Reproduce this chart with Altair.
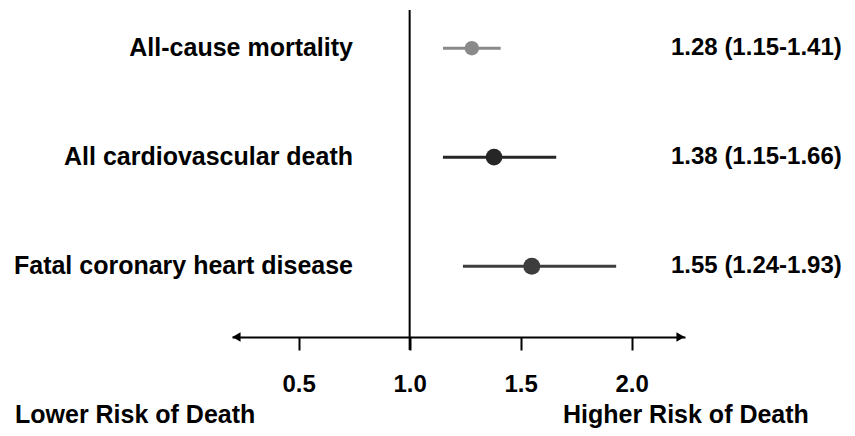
import altair as alt
import pandas as pd

# ---- data ----
outcomes = ["All-cause mortality", "All cardiovascular death", "Fatal coronary heart disease"]
hr = [1.28, 1.38, 1.55]
ci_low = [1.15, 1.15, 1.24]
ci_high = [1.41, 1.66, 1.93]
colors = ["#8a8a8a", "#262626", "#3d3d3d"]
point_sizes = [210, 280, 290]

x_ticks = [0.5, 1.0, 1.5, 2.0]
x_domain = [0.2, 2.24]
reference_value = [1.0]
bottom_labels = ["Lower Risk of Death", "Higher Risk of Death"]

FONT = "Liberation Sans"
FS = 24
FS_LABEL = 25
W, H = 453, 327

df = pd.DataFrame({
    "outcome": outcomes,
    "hr": hr,
    "lo": ci_low,
    "hi": ci_high,
    "size": point_sizes,
})
df["label"] = [f"{h:.2f} ({l:.2f}-{u:.2f})" for h, l, u in zip(hr, ci_low, ci_high)]

xscale = alt.Scale(domain=x_domain, nice=False, zero=False)
yscale = alt.Scale(type="point", domain=outcomes, padding=0.5, align=0.35)
cscale = alt.Scale(domain=outcomes, range=colors)

base = alt.Chart(df)

x_axis = alt.Axis(
    values=x_ticks, format=".1f", title=None, grid=False,
    domainColor="black", domainWidth=2,
    tickColor="black", tickWidth=2, tickSize=13,
    labelFont=FONT, labelFontSize=FS, labelFontWeight="bold", labelColor="black",
    labelPadding=22,
)

ci = base.mark_rule(strokeWidth=3).encode(
    x=alt.X("lo:Q", scale=xscale, axis=x_axis),
    x2="hi:Q",
    y=alt.Y("outcome:N", scale=yscale, axis=None, sort=outcomes),
    color=alt.Color("outcome:N", scale=cscale, legend=None),
)

pts = base.mark_circle(opacity=1).encode(
    x=alt.X("hr:Q", scale=xscale),
    y=alt.Y("outcome:N", scale=yscale, axis=None, sort=outcomes),
    color=alt.Color("outcome:N", scale=cscale, legend=None),
    size=alt.Size("size:Q", scale=None, legend=None),
)

names = base.mark_text(align="right", baseline="middle", font=FONT, fontSize=FS_LABEL,
                       fontWeight="bold", color="black").encode(
    x=alt.value(121),
    y=alt.Y("outcome:N", scale=yscale, axis=None, sort=outcomes),
    text="outcome:N",
)

vals = base.mark_text(align="left", baseline="middle", font=FONT, fontSize=FS,
                      fontWeight="bold", color="black").encode(
    x=alt.value(439),
    y=alt.Y("outcome:N", scale=yscale, axis=None, sort=outcomes),
    text="label:N",
)

ref = alt.Chart(pd.DataFrame({"v": reference_value})).mark_rule(
    color="black", strokeWidth=2).encode(
    x=alt.X("v:Q", scale=xscale),
    y=alt.value(0),
    y2=alt.value(H + 13),
)

arrows_df = pd.DataFrame({
    "x": [x_domain[0] + 0.02, x_domain[1] - 0.02],
    "shape": ["triangle-left", "triangle-right"],
})
arrows = alt.Chart(arrows_df).mark_point(filled=True, color="black", opacity=1, size=90).encode(
    x=alt.X("x:Q", scale=xscale),
    y=alt.value(H),
    shape=alt.Shape("shape:N", scale=None, legend=None),
)

lower = alt.Chart(pd.DataFrame({"t": [bottom_labels[0]]})).mark_text(
    align="left", baseline="middle", font=FONT, fontSize=FS_LABEL, fontWeight="bold", color="black"
).encode(x=alt.value(-217), y=alt.value(H + 78), text="t:N")

higher = alt.Chart(pd.DataFrame({"t": [bottom_labels[1]]})).mark_text(
    align="left", baseline="middle", font=FONT, fontSize=FS_LABEL, fontWeight="bold", color="black"
).encode(x=alt.value(331), y=alt.value(H + 78), text="t:N")

chart = alt.layer(ci, ref, arrows, pts, names, vals, lower, higher).properties(
    width=W, height=H,
    autosize=alt.AutoSizeParams(type="none"),
    padding={"left": 224, "top": 2, "right": 162, "bottom": 91},
).configure_view(strokeWidth=0)

chart.save("out.html", embed_options={"renderer": "svg", "actions": False})
